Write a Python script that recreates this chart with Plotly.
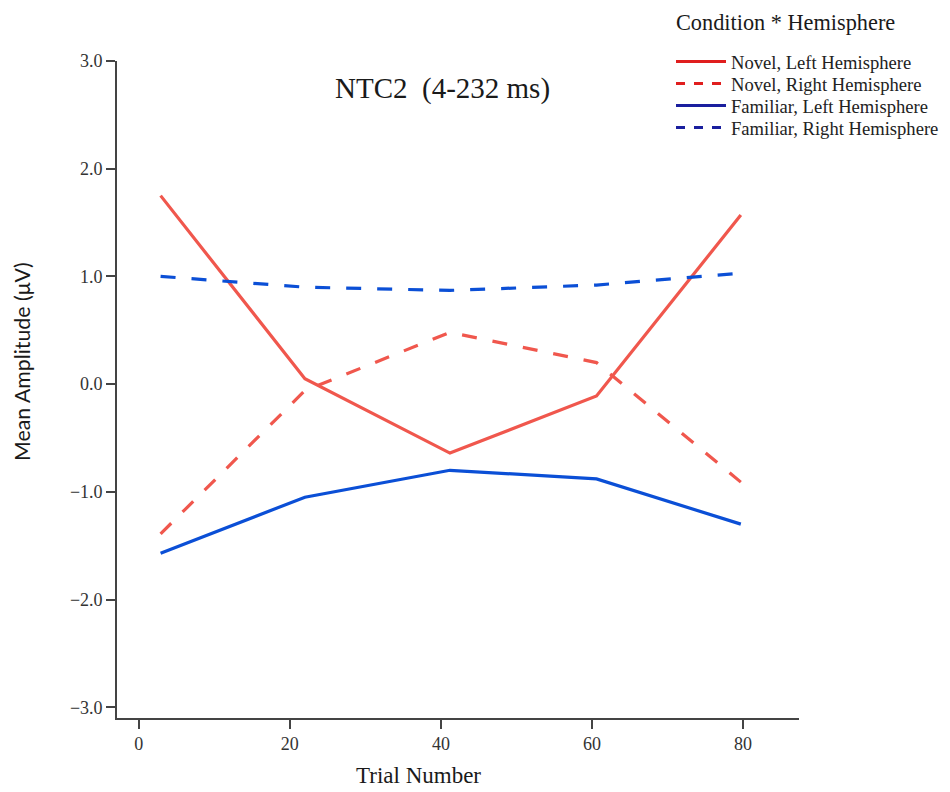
import plotly.graph_objects as go

# ---- data ----
trial_number = [2.9, 22.0, 41.2, 60.6, 79.7]
novel_left = [1.75, 0.05, -0.64, -0.11, 1.57]
novel_right = [-1.39, -0.06, 0.48, 0.20, -0.91]
familiar_left = [-1.57, -1.05, -0.80, -0.88, -1.30]
familiar_right = [1.00, 0.90, 0.87, 0.92, 1.03]

series_names = ["Novel, Left Hemisphere", "Novel, Right Hemisphere",
                "Familiar, Left Hemisphere", "Familiar, Right Hemisphere"]
y_ticks = [-3.0, -2.0, -1.0, 0.0, 1.0, 2.0, 3.0]
x_ticks = [0, 20, 40, 60, 80]

# page has an 8px body margin, so the figure is offset by 8px
OFF = 8
W, H = 942, 784
ML, MR, MT, MB = 109, 151, 53, 74

PLOT_RED = "#F0574D"
PLOT_BLUE = "#0B4FD6"
LEG_RED = "#E01E1E"
LEG_BLUE = "#1A1F9E"
SERIF = "Liberation Serif, Times New Roman, serif"


def px_x(px):
    return (px - OFF - ML) / (W - ML - MR)


def px_y(py):
    return (H - MB - (py - OFF)) / (H - MT - MB)


fig = go.Figure()
series = [
    (novel_left, PLOT_RED, LEG_RED, "solid"),
    (novel_right, PLOT_RED, LEG_RED, "15px,16px"),
    (familiar_left, PLOT_BLUE, LEG_BLUE, "solid"),
    (familiar_right, PLOT_BLUE, LEG_BLUE, "15px,16px"),
]
legend_ids = ["legend", "legend2", "legend3", "legend4"]
for (vals, c, _, d), name in zip(series, series_names):
    fig.add_trace(go.Scatter(x=trial_number, y=vals, mode="lines", name=name,
                             line=dict(color=c, width=3.2, dash=d),
                             showlegend=False))
# legend entries (legend keys drawn in the darker legend colours)
for (vals, _, lc, d), name, lid in zip(series, series_names, legend_ids):
    fig.add_trace(go.Scatter(x=[None], y=[None], mode="lines", name=name,
                             line=dict(color=lc, width=3, dash="dash" if d != "solid" else "solid"),
                             showlegend=True, legend=lid))

legend_rows = [62, 84, 106, 128]
legend_style = dict(xanchor="left", yanchor="middle",
                    font=dict(family=SERIF, size=18.6, color="#222222"),
                    bgcolor="rgba(0,0,0,0)", borderwidth=0, itemwidth=50)
legends = {lid: dict(x=px_x(671), y=px_y(row), **legend_style)
           for lid, row in zip(legend_ids, legend_rows)}

fig.update_layout(
    width=W, height=H,
    margin=dict(l=ML, r=MR, t=MT, b=MB, pad=0, autoexpand=False),
    plot_bgcolor="white", paper_bgcolor="white",
    font=dict(family=SERIF, color="#222222", size=18),
    showlegend=True,
    **legends,
    xaxis=dict(range=[-2.87, 87.4], tickmode="array", tickvals=x_ticks,
               ticktext=[str(v) for v in x_ticks],
               showline=True, linecolor="#444444", linewidth=1.6,
               ticks="outside", ticklen=9, tickwidth=1.6, tickcolor="#444444",
               showgrid=False, zeroline=False,
               tickfont=dict(family=SERIF, size=18, color="#333333")),
    yaxis=dict(range=[-3.1, 3.0], tickmode="array", tickvals=y_ticks,
               ticktext=[f"{v:.1f}".replace("-", "\u2212") for v in y_ticks],
               showline=True, linecolor="#444444", linewidth=1.6,
               ticks="outside", ticklen=9, tickwidth=1.6, tickcolor="#444444",
               showgrid=False, zeroline=False,
               tickfont=dict(family=SERIF, size=18, color="#333333")),
    annotations=[
        dict(text="NTC2\u00a0\u00a0(4-232 ms)", xref="paper", yref="paper",
             x=px_x(442), y=px_y(88), xanchor="center", yanchor="middle",
             showarrow=False, font=dict(family=SERIF, size=29, color="#1a1a1a")),
        dict(text="Condition * Hemisphere", xref="paper", yref="paper",
             x=px_x(785), y=px_y(22), xanchor="center", yanchor="middle",
             showarrow=False, font=dict(family=SERIF, size=22.3, color="#1a1a1a")),
        dict(text="Trial Number", xref="paper", yref="paper",
             x=px_x(418), y=px_y(775), xanchor="center", yanchor="middle",
             showarrow=False, font=dict(family=SERIF, size=23, color="#1a1a1a")),
        dict(text="Mean Amplitude (\u03bcV)", xref="paper", yref="paper",
             x=px_x(22), y=px_y(362), xanchor="center", yanchor="middle",
             textangle=-90, showarrow=False,
             font=dict(family="Lato, Liberation Sans, sans-serif", size=21.3, color="#1a1a1a")),
    ],
)

fig.write_html("out.html")
